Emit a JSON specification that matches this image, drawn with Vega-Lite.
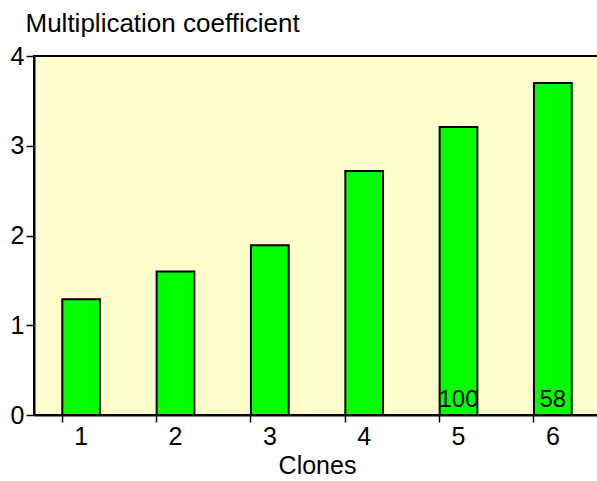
{
  "$schema": "https://vega.github.io/schema/vega-lite/v6.json",
  "width": 566,
  "height": 359,
  "autosize": "none",
  "padding": {"left": 34, "top": 56, "right": -3, "bottom": 66},
  "background": "white",
  "config": {
    "font": "Liberation Sans",
    "view": {"fill": "#FFFFCC", "stroke": "#000000", "strokeWidth": 2}
  },
  "data": {
    "values": [
      {"clone": "1", "coef": 1.29, "n": ""},
      {"clone": "2", "coef": 1.6, "n": ""},
      {"clone": "3", "coef": 1.89, "n": ""},
      {"clone": "4", "coef": 2.72, "n": ""},
      {"clone": "5", "coef": 3.21, "n": "100"},
      {"clone": "6", "coef": 3.7, "n": "58"}
    ]
  },
  "encoding": {
    "x": {
      "field": "clone",
      "type": "nominal",
      "scale": {"paddingInner": 0.6, "paddingOuter": 0.3},
      "axis": {
        "title": "Clones",
        "titleFont": "Liberation Sans",
        "titleFontSize": 25,
        "titleFontWeight": "normal",
        "titleColor": "#000",
        "titlePadding": 4,
        "labelAngle": 0,
        "labelFontSize": 25,
        "labelColor": "#000",
        "labelPadding": 2,
        "labelOverlap": false,
        "bandPosition": 0,
        "tickSize": 7,
        "tickColor": "#000",
        "tickWidth": 1.5,
        "domainColor": "#000",
        "domainWidth": 2
      }
    }
  },
  "layer": [
    {
      "mark": {"type": "bar", "fill": "#00FF00", "stroke": "#000000", "strokeWidth": 2},
      "encoding": {
        "y": {
          "field": "coef",
          "type": "quantitative",
          "scale": {"domain": [0, 4], "nice": false},
          "axis": {
            "title": "Multiplication coefficient",
            "titleFont": "Liberation Sans",
            "titleFontSize": 26,
            "titleFontWeight": "normal",
            "titleColor": "#000",
            "titleAngle": 0,
            "titleAlign": "left",
            "titleBaseline": "alphabetic",
            "titleX": -9,
            "titleY": -25,
            "values": [0, 1, 2, 3, 4],
            "format": "d",
            "labelOverlap": false,
            "grid": false,
            "labelFontSize": 25,
            "labelColor": "#000",
            "labelPadding": 2,
            "tickSize": 8,
            "tickColor": "#000",
            "tickWidth": 1.5,
            "domainColor": "#000",
            "domainWidth": 2
          }
        }
      }
    },
    {
      "mark": {"type": "text", "fontSize": 24, "baseline": "alphabetic", "dy": -8, "color": "#000"},
      "encoding": {
        "y": {"datum": 0, "type": "quantitative"},
        "text": {"field": "n"}
      }
    }
  ]
}
